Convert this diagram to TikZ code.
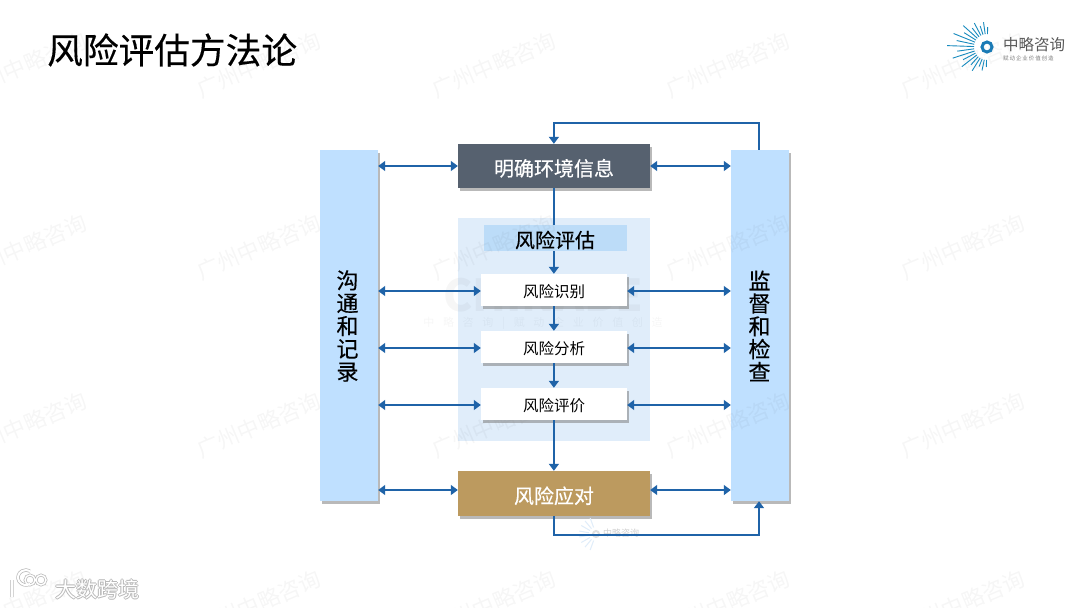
\documentclass[tikz,border=0pt]{standalone}
\usepackage{fontspec}
\setmainfont{Noto Sans CJK SC}
\newfontfamily\medf[FakeBold=0.35]{Noto Sans CJK SC}
\usetikzlibrary{arrows.meta,shadows}
\definecolor{barblue}{HTML}{BFE0FF}
\definecolor{linkblue}{HTML}{1F63A8}
\definecolor{slatebox}{HTML}{56616F}
\definecolor{goldbox}{HTML}{BC9A5F}
\definecolor{panelblue}{HTML}{E0EDFA}
\definecolor{bandblue}{HTML}{BCDCF8}
\tikzset{
  x=1pt,y=-1pt,
  softshadow/.style={general shadow={shadow xshift=2pt,shadow yshift=-2.5pt,fill=black!50,opacity=.55}},
  sidebar/.style={draw=none,fill=barblue,softshadow,minimum width=58pt,minimum height=351pt,inner sep=0pt},
  sidetext/.style={inner sep=0pt,font=\fontsize{22}{22.8}\selectfont\medf,align=center,text=black},
  mainbox/.style={draw=none,softshadow,minimum width=192pt,minimum height=44pt,inner sep=0pt,text=white,text height=21.6pt,font=\fontsize{20}{24}\selectfont\medf},
  stepbox/.style={draw=none,fill=white,softshadow,minimum width=146pt,minimum height=32pt,inner sep=0pt,text=black,text height=17pt,font=\fontsize{15.5}{18}\selectfont},
  link/.style={draw=linkblue,line width=1.7pt,-{Triangle[length=7pt,width=10pt]}},
  bilink/.style={draw=linkblue,line width=1.5pt,{Triangle[length=7pt,width=10pt]}-{Triangle[length=7pt,width=10pt]}},
  plainlink/.style={draw=linkblue,line width=1.7pt},
  wmark/.style={text=black,text opacity=.035,font=\fontsize{22}{24}\selectfont,rotate=23,inner sep=0pt},
  cwmark/.style={text=black,text opacity=.035,inner sep=0pt},
}
\begin{document}
\begin{tikzpicture}
\useasboundingbox[fill=white] (0,0) rectangle (1080,608);
% title
\node[anchor=west,inner sep=0pt,font=\fontsize{35.7}{40}\selectfont\medf,text=black] (title) at (47,50) {风险评估方法论};
% panel and band
\node[fill=panelblue,minimum width=192pt,minimum height=223pt,inner sep=0pt] (panel) at (554,329.5) {};
\node[fill=bandblue,minimum width=143pt,minimum height=26pt,inner sep=0pt] (band) at (555.5,238) {};
\node[font=\fontsize{20}{24}\selectfont\medf,text=black,inner sep=0pt] (bandtext) at (555,240) {风险评估};
% side bars
\node[sidebar] (left) at (349,325.5) {};
\node[sidebar] (right) at (760,325.5) {};
\node[sidetext] (lefttext) at (347.5,326) {沟\\通\\和\\记\\录};
\node[sidetext] (righttext) at (759.5,326) {监\\督\\和\\检\\查};
% page watermarks
\foreach \yy in {65,247,425,603}{\foreach \xx in {25,259,494,728,963}{
  \node[wmark] at (\xx,\yy) {广州中略咨询};}}
\node[cwmark,font=\fontsize{44}{46}\selectfont\bfseries] (cw) at (543,295) {CHINABE};
\node[cwmark,font=\fontsize{11}{12}\selectfont] (cw2) at (543,323) {中\hspace{8.7pt}略\hspace{8.7pt}咨\hspace{8.7pt}询\hspace{8.7pt}|\hspace{8.7pt}赋\hspace{8.7pt}动\hspace{8.7pt}企\hspace{8.7pt}业\hspace{8.7pt}价\hspace{8.7pt}值\hspace{8.7pt}创\hspace{8.7pt}造};
% boxes
\node[mainbox,fill=slatebox] (ctx) at (554,166) {明确环境信息};
\node[mainbox,fill=goldbox,minimum height=45pt] (resp) at (554,493.5) {风险应对};
\node[stepbox] (s1) at (554,290) {风险识别};
\node[stepbox] (s2) at (554,347) {风险分析};
\node[stepbox] (s3) at (554,404) {风险评价};
% small logo watermark
\node[text=black!18,font=\fontsize{9}{10}\selectfont,inner sep=0pt] (smalllogo) at (621,533) {中略咨询};
\draw[black!12,line width=2pt] (596,534) circle (3);
\foreach \a in {110,130,...,250}{\draw[panelblue,line width=1pt] (596,534) ++(\a:7) -- ++(\a:10);}
% vertical flow
\coordinate (cx) at (553.9,0);
\draw[plainlink] (cx |- ctx.south) -- (cx |- band.north);
\draw[link] (cx |- band.south) -- (cx |- s1.north);
\draw[link] (cx |- s1.south) -- (cx |- s2.north);
\draw[link] (cx |- s2.south) -- (cx |- s3.north);
\draw[link] (cx |- s3.south) -- (cx |- resp.north);
% side arrows
\foreach \n/\yy in {ctx/166,s1/291,s2/348,s3/405,resp/490}{
  \coordinate (ly) at (0,\yy);
  \draw[bilink] (left.east |- ly) -- (\n.west |- ly);
  \draw[bilink] (\n.east |- ly) -- (right.west |- ly);
}
% loops
\coordinate (top) at (759,123);
\coordinate (bot) at (759,535);
\draw[link] (top |- right.north) -- (top) -- (cx |- top) -- (cx |- ctx.north);
\draw[link] (cx |- resp.south) -- (cx |- bot) -- (bot) -- (bot |- right.south);
% corner logo
\foreach \a/\l in {92/7,102/11,112/8,122/15,132/11,142/19,152/14,162/23,172/17,182/27,192/18,202/23,212/14,222/19,232/11,242/14,252/9,262/12,272/7}{
  \draw[line width=.9pt,color=linkblue!75!cyan] (987,47) ++(\a:13) -- ++(\a:\l);}
\draw[line width=3pt,color=linkblue!85!cyan] (987,47) circle (5);
\node[anchor=west,inner sep=0pt,font=\fontsize{15.5}{17}\selectfont,text=black!65] (ltext) at (1003,45) {中略咨询};
\node[anchor=west,inner sep=0pt,font=\fontsize{5.5}{6}\selectfont,text=black!50] (lsub) at (1003,58) {赋\,动\,企\,业\,价\,值\,创\,造};
% bottom-left mark
\foreach \dx/\dy in {1/0,-1/0,0/1,0/-1}{
  \node[anchor=west,inner sep=0pt,font=\fontsize{21}{24}\selectfont,text=black!28] at (55+\dx,589+\dy) {大数跨境};}
\node[anchor=west,inner sep=0pt,font=\fontsize{21}{24}\selectfont,text=white] (ds) at (55,589) {大数跨境};
\draw[black!28,line width=3.4pt] (12,580) -- (12,597) (30,584) arc (60:300:8 and 7.5);
\draw[black!28,line width=2.8pt] (30,580) circle (5) (41,580) circle (5);
\draw[white,line width=2pt] (12,580) -- (12,597) (30,584) arc (60:300:8 and 7.5);
\draw[white,line width=1.4pt] (30,580) circle (5) (41,580) circle (5);
\end{tikzpicture}
\end{document}
